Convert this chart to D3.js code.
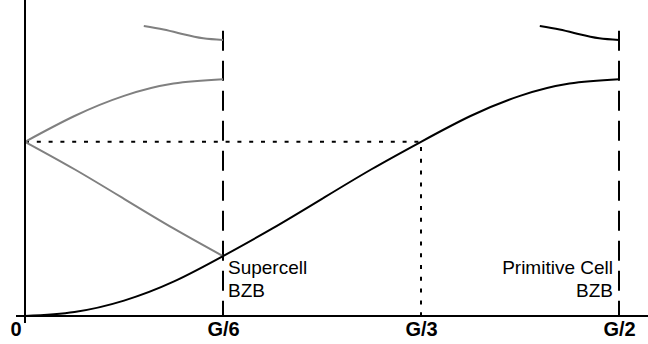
<!DOCTYPE html>
<html>
<head>
<meta charset="utf-8">
<script src="https://cdn.jsdelivr.net/npm/d3@7"></script>
<style>
  body { margin: 0; background: #fff; }
  svg { display: block; font-family: "Liberation Sans", Arial, sans-serif; }
</style>
</head>
<body>
<div class="visHolder"></div>
<script>
// k in units of G/6, energy in units of the band top at G/2
let tickKs = [0, 1, 2, 3];
let tickLabels = ["0", "G/6", "G/3", "G/2"];

let bandK = [0, 0.25, 0.5, 0.75, 1, 1.25, 1.5, 1.75, 2, 2.25, 2.5, 2.75, 3];
let bandE = [0, 0.017, 0.065, 0.145, 0.253, 0.37, 0.495, 0.62, 0.736, 0.845, 0.93, 0.982, 1];

let foldK = [0, 0.25, 0.5, 0.75, 1];
let foldUpperE = [0.736, 0.845, 0.93, 0.982, 1];
let foldLowerE = [0.736, 0.62, 0.495, 0.37, 0.253];

let topSuperK = [0.6, 0.7, 0.8, 0.9, 1];
let topSuperE = [1.225, 1.21, 1.19, 1.173, 1.166];
let topPrimK = [2.6, 2.7, 2.8, 2.9, 3];
let topPrimE = [1.225, 1.21, 1.19, 1.173, 1.166];

let bzbK = [1, 3];
let bzbTopE = 1.205;
let crossK = 2;
let crossE = 0.736;

let width = 648;
let height = 344;

let svg = d3
  .select(".visHolder")
  .append("svg")
  .attr("width", width)
  .attr("height", height);

let xScale = d3.scaleLinear().domain([0, 3]).range([25, 619]);
let yScale = d3.scaleLinear().domain([0, 1]).range([316, 79.3]);

let line = d3
  .line()
  .x((d) => xScale(d[0]))
  .y((d) => yScale(d[1]))
  .curve(d3.curveNatural);

function pairs(ks, es) {
  return ks.map((k, i) => [k, es[i]]);
}

// dotted guide lines to the G/3 crossing
svg
  .append("path")
  .attr(
    "d",
    d3.line()([
      [xScale(0), yScale(crossE)],
      [xScale(crossK), yScale(crossE)],
      [xScale(crossK), yScale(0)],
    ])
  )
  .attr("fill", "none")
  .attr("stroke", "#000")
  .attr("stroke-width", 2)
  .attr("stroke-dasharray", "4,7.8");

// zone boundaries
svg
  .selectAll(".bzb")
  .data(bzbK)
  .enter()
  .append("line")
  .attr("class", "bzb")
  .attr("x1", (d) => xScale(d))
  .attr("x2", (d) => xScale(d))
  .attr("y1", yScale(bzbTopE))
  .attr("y2", yScale(0))
  .attr("stroke", "#000")
  .attr("stroke-width", 2)
  .attr("stroke-dasharray", "20,10");

// folded bands (grey)
[pairs(foldK, foldUpperE), pairs(foldK, foldLowerE), pairs(topSuperK, topSuperE)].forEach(
  function (pts) {
    svg
      .append("path")
      .attr("d", line(pts))
      .attr("fill", "none")
      .attr("stroke", "#808080")
      .attr("stroke-width", 2);
  }
);

// primitive cell bands (black)
[pairs(bandK, bandE), pairs(topPrimK, topPrimE)].forEach(function (pts) {
  svg
    .append("path")
    .attr("d", line(pts))
    .attr("fill", "none")
    .attr("stroke", "#000")
    .attr("stroke-width", 2);
});

// axes
svg
  .append("line")
  .attr("x1", 16)
  .attr("x2", width)
  .attr("y1", yScale(0))
  .attr("y2", yScale(0))
  .attr("stroke", "#000")
  .attr("stroke-width", 2);
svg
  .append("line")
  .attr("x1", xScale(0))
  .attr("x2", xScale(0))
  .attr("y1", 0)
  .attr("y2", 323)
  .attr("stroke", "#000")
  .attr("stroke-width", 2);

let xAxis = d3
  .axisBottom(xScale)
  .tickValues(tickKs)
  .tickSize(0)
  .tickPadding(6)
  .tickFormat((d, i) => tickLabels[i]);

let gx = svg
  .append("g")
  .attr("id", "x-axis")
  .attr("transform", "translate(0," + yScale(0) + ")")
  .call(xAxis);
gx.select(".domain").remove();
gx.selectAll("text")
  .attr("font-family", "Liberation Sans, Arial, sans-serif")
  .attr("font-size", 20)
  .attr("font-weight", "bold")
  .attr("fill", "#000")
  .attr("dx", (d, i) => (i === 0 ? -9.5 : 0));

// boundary labels
let labels = svg.append("g").attr("font-size", 19).attr("fill", "#000");
labels
  .append("text")
  .attr("x", xScale(1) + 5)
  .attr("y", 274)
  .text("Supercell");
labels
  .append("text")
  .attr("x", xScale(1) + 5)
  .attr("y", 297)
  .text("BZB");
labels
  .append("text")
  .attr("x", xScale(3) - 6)
  .attr("y", 274)
  .attr("text-anchor", "end")
  .text("Primitive Cell");
labels
  .append("text")
  .attr("x", xScale(3) - 6)
  .attr("y", 297)
  .attr("text-anchor", "end")
  .text("BZB");
</script>
</body>
</html>
